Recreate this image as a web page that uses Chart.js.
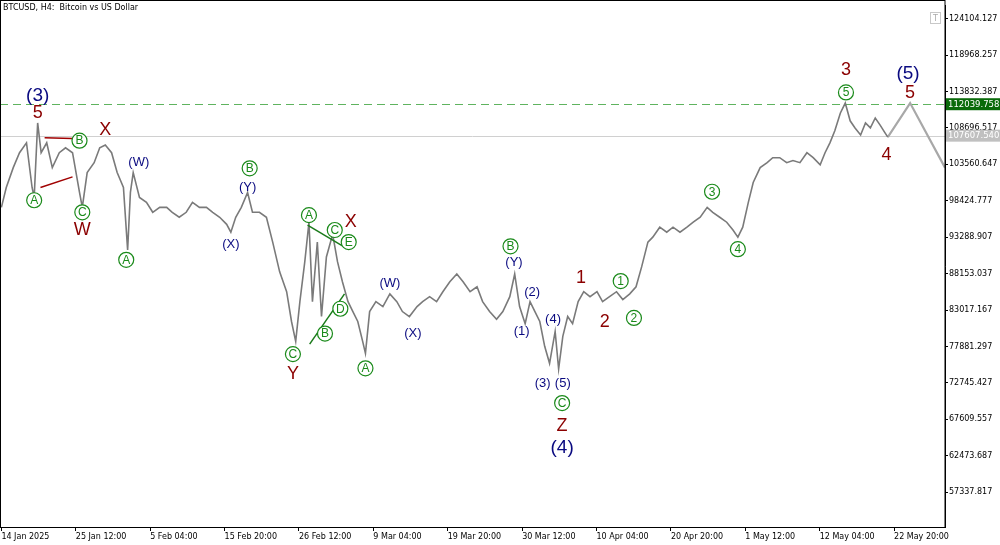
<!DOCTYPE html>
<html><head><meta charset="utf-8">
<script src="https://cdn.jsdelivr.net/npm/chart.js@4/dist/chart.umd.min.js"></script>
<style>html,body{margin:0;padding:0;background:#fff}#wrap{width:1000px;height:545px}</style>
</head><body><div id="wrap"><canvas id="c" width="1000" height="545"></canvas></div>
<script>
// Days since 14 Jan 2025 00:00 (H4 chart)
const days = [0,0.7,1.7,2.6,3.6,4.4,4.7,5.2,5.7,6.5,7.3,8.3,9.2,10.2,11.2,11.6,12.3,13.3,14.1,14.9,15.8,16.6,17.5,18.1,18.5,18.9,19.8,20.8,21.7,22.7,23.7,24.5,25.5,26.5,27.4,28.4,29.4,30.3,31.3,32.3,32.9,33.6,34.4,35.3,36.0,37.0,38.0,38.9,39.9,40.9,41.6,42.2,42.8,43.5,44.1,44.6,45.3,45.9,46.6,47.5,48.2,48.9,49.7,50.4,51.1,51.8,52.2,52.8,53.7,54.7,55.7,56.7,57.5,58.5,59.6,60.4,61.4,62.4,63.3,64.3,65.3,66.2,67.2,68.2,69.0,70.0,71.0,71.9,72.9,73.6,74.3,75.1,75.8,76.5,77.2,77.9,78.6,79.4,79.9,80.5,81.2,81.9,82.7,83.5,84.4,85.4,86.2,87.2,88.2,89.1,90.1,91.0,91.8,92.7,93.4,94.4,95.4,96.3,97.3,98.3,99.2,100.2,101.2,102.0,103.0,104.0,104.9,105.6,106.3,107.1,107.8,108.8,109.8,110.6,111.6,112.6,113.5,114.5,115.5,116.4,117.4,118.1,118.8,119.5,120.3,121.0,121.7,122.4,123.2,123.9,124.6,125.3,126.0,126.7,127.1];
const prices = [97500,100300,103100,105200,106600,100300,98900,109400,105200,106600,103100,105200,105900,105200,99600,97500,102400,103800,105900,106300,105200,102400,100300,91500,99600,102400,98900,98200,96800,97500,97500,96800,96100,96800,98200,97500,97500,96800,96100,95100,94000,96100,97500,99600,96800,96800,96100,92600,88400,85600,81400,78600,84200,89800,95400,84200,92600,82100,90500,93700,89800,87000,84200,82800,81400,78600,76900,82800,84200,83500,85300,84200,82800,82100,83500,84200,84900,84200,85600,87000,88100,87000,85600,86300,84200,82800,81700,82800,84900,88100,83500,81100,84200,82800,81400,77900,75500,80000,74700,79300,82100,81100,84200,85600,84900,85600,84200,84900,85600,84500,85300,86300,89100,92600,93300,94700,94000,94700,94000,94700,95400,96100,97500,96800,96100,95400,94300,93300,94700,98200,101000,103100,103800,104500,104500,103800,104100,103800,105200,104500,103500,105200,106600,108300,110800,112200,109700,108700,107700,109400,108700,110100,109100,108000,107400];
const projDays = [127.1,130.3,135.3];
const projPrices = [107400,112200,103100];
const xTickLabels = ['14 Jan 2025','25 Jan 12:00','5 Feb 04:00','15 Feb 20:00','26 Feb 12:00','9 Mar 04:00','19 Mar 20:00','30 Mar 12:00','10 Apr 04:00','20 Apr 20:00','1 May 12:00','12 May 04:00','22 May 20:00'];
const yTickValues = [124104.127,118968.257,113832.387,108696.517,103560.647,98424.777,93288.907,88153.037,83017.167,77881.297,72745.427,67609.557,62473.687,57337.817];
const levelGreen = 112039.758, levelGray = 107607.540;
// wave labels: [text, day, price, style]
const waveLabels = [
 ['(3)',5.2,113200,'navyL'],['5',5.2,110800,'red'],['A',4.7,98500,'c'],['B',11.2,106900,'c'],['C',11.6,96800,'c'],['W',11.6,94300,'red'],
 ['X',14.9,108400,'red'],['A',17.9,90100,'c'],['(W)',19.7,103800,'navy'],['(X)',32.9,92200,'navy'],['B',35.6,103000,'c'],['(Y)',35.3,100300,'navy'],
 ['A',44.1,96400,'c'],['X',50.1,95400,'red'],['C',47.8,94300,'c'],['E',49.8,92600,'c'],['D',48.6,83200,'c'],['B',46.4,79700,'c'],['C',41.8,76800,'c'],['Y',41.8,74000,'red'],
 ['A',52.2,74800,'c'],['(W)',55.7,86700,'navy'],['(X)',59.0,79700,'navy'],['B',73.0,92000,'c'],['(Y)',73.5,89700,'navy'],['(2)',76.1,85500,'navy'],['(1)',74.6,80000,'navy'],
 ['(4)',79.1,81700,'navy'],['(3)',77.6,72600,'navy'],['(5)',80.5,72600,'navy'],['C',80.4,69900,'c'],['Z',80.4,66700,'red'],['(4)',80.4,63600,'navyL'],
 ['1',83.1,87600,'red'],['2',86.5,81300,'red'],['1',88.8,87100,'c'],['2',90.7,81900,'c'],['3',101.9,99700,'c'],['4',105.6,91600,'c'],
 ['3',121.1,116800,'red'],['5',121.1,113700,'c'],['(5)',130.0,116400,'navyL'],['5',130.3,113600,'red'],['4',126.9,104900,'red']
];
// trend lines: [d1,p1,d2,p2,color]
const trendLines = [[6.2,107300,10.2,107200,'#a00000'],[5.6,100300,10.2,101800,'#a00000'],[43.9,95000,49.2,91900,'#1a7a1a'],[44.2,78200,49.2,85300,'#1a7a1a']];

const xTickVals = xTickLabels.map((_, i) => i * 64 / 6);
const pricePts = days.map((d, i) => ({x: d, y: prices[i]}));
const projPts = projDays.map((d, i) => ({x: d, y: projPrices[i]}));

const overlay = {
 id: 'overlay',
 beforeDatasetsDraw(ch) {
  const {ctx, chartArea: a, scales: {x, y}} = ch;
  ctx.save();
  ctx.beginPath(); ctx.rect(a.left, a.top, a.right - a.left, a.bottom - a.top); ctx.clip();
  let yy = Math.round(y.getPixelForValue(levelGray)) + 0.5;
  ctx.strokeStyle = '#d0d0d0'; ctx.lineWidth = 1;
  ctx.beginPath(); ctx.moveTo(a.left, yy); ctx.lineTo(a.right, yy); ctx.stroke();
  yy = Math.round(y.getPixelForValue(levelGreen)) + 0.5;
  ctx.strokeStyle = '#5fb35f'; ctx.setLineDash([8, 5]);
  ctx.beginPath(); ctx.moveTo(a.left, yy); ctx.lineTo(a.right, yy); ctx.stroke();
  ctx.setLineDash([]);
  ctx.restore();
 },
 afterDatasetsDraw(ch) {
  const {ctx, chartArea: a, scales: {x, y}} = ch;
  ctx.save();
  trendLines.forEach(t => {
   ctx.strokeStyle = t[4]; ctx.lineWidth = 1.5;
   ctx.beginPath(); ctx.moveTo(x.getPixelForValue(t[0]), y.getPixelForValue(t[1]));
   ctx.lineTo(x.getPixelForValue(t[2]), y.getPixelForValue(t[3])); ctx.stroke();
  });
  ctx.textAlign = 'center'; ctx.textBaseline = 'middle';
  waveLabels.forEach(l => {
   const px = x.getPixelForValue(l[1]), py = y.getPixelForValue(l[2]);
   if (l[3] === 'c') {
    ctx.beginPath(); ctx.arc(px, py, 7.5, 0, Math.PI * 2);
    ctx.fillStyle = '#fff'; ctx.fill(); ctx.strokeStyle = '#1a8a1a'; ctx.lineWidth = 1.2; ctx.stroke();
    ctx.fillStyle = '#1a8a1a'; ctx.font = '12px "Liberation Sans"'; ctx.fillText(l[0], px, py + 0.5);
   } else if (l[3] === 'red') {
    ctx.fillStyle = '#8b0000'; ctx.font = '18px "Liberation Sans"'; ctx.fillText(l[0], px, py);
   } else if (l[3] === 'navyL') {
    ctx.fillStyle = '#0a0a80'; ctx.font = '19px "Liberation Sans"'; ctx.fillText(l[0], px, py);
   } else {
    ctx.fillStyle = '#0a0a80'; ctx.font = '13px "Liberation Sans"'; ctx.fillText(l[0], px, py);
   }
  });
  // frame
  ctx.strokeStyle = '#000'; ctx.lineWidth = 1;
  ctx.strokeRect(0.5, 0.5, a.right - 0.5, a.bottom);
  // title
  ctx.textAlign = 'left'; ctx.fillStyle = '#000'; ctx.font = '8px "DejaVu Sans"';
  ctx.fillText('BTCUSD, H4:  Bitcoin vs US Dollar', 3, 8);
  // T box
  ctx.strokeStyle = '#c8c8c8'; ctx.strokeRect(930.5, 12.5, 10, 11);
  ctx.fillStyle = '#aaa'; ctx.textAlign = 'center'; ctx.fillText('T', 935.5, 18.5);
  // level boxes
  [[levelGreen, '#0a6a0a'], [levelGray, '#c0c0c0']].forEach(([v, c]) => {
   const py = y.getPixelForValue(v);
   ctx.fillStyle = c; ctx.fillRect(a.right + 1, py - 6, 54, 12);
   ctx.fillStyle = '#fff'; ctx.textAlign = 'left'; ctx.font = '8.5px "DejaVu Sans"';
   ctx.fillText(v.toFixed(3), a.right + 3, py + 0.5);
  });
  ctx.restore();
 }
};

new Chart(document.getElementById('c'), {
 type: 'line',
 data: { datasets: [
  { data: pricePts, borderColor: '#7a7a7a', borderWidth: 1.6, pointRadius: 0, tension: 0 },
  { data: projPts, borderColor: '#a8a8a8', borderWidth: 2.2, pointRadius: 0, tension: 0 }
 ]},
 options: {
  responsive: false, animation: false, events: [],
  layout: { padding: { top: 1, left: 0, right: 0, bottom: 0 } },
  plugins: { legend: { display: false }, tooltip: { enabled: false } },
  scales: {
   x: { type: 'linear', min: -0.2, max: 135.3, position: 'bottom',
    afterFit(s) { s.height = 18; },
    afterBuildTicks(s) { s.ticks = xTickVals.map(v => ({value: v})); },
    ticks: { autoSkip: false, maxRotation: 0, align: 'start', padding: 1, color: '#000', font: { family: 'DejaVu Sans', size: 8 },
     callback: (v, i) => xTickLabels[i] },
    grid: { drawOnChartArea: false, tickLength: 4, color: '#000' }, border: { color: '#000' } },
   y: { type: 'linear', position: 'right', min: 52420, max: 125920,
    afterFit(s) { s.width = 55; },
    afterBuildTicks(s) { s.ticks = yTickValues.map(v => ({value: v})); },
    ticks: { autoSkip: false, padding: 1, color: '#000', font: { family: 'DejaVu Sans', size: 8 },
     callback: v => v.toFixed(3) },
    grid: { drawOnChartArea: false, tickLength: 3, color: '#000' }, border: { color: '#000' } }
  }
 },
 plugins: [overlay]
});
</script></body></html>
